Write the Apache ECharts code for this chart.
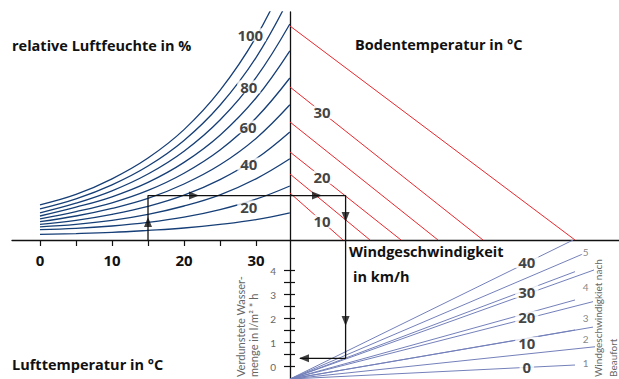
<!DOCTYPE html>
<html><head><meta charset="utf-8">
<script src="https://cdn.jsdelivr.net/npm/echarts@6/dist/echarts.min.js"></script>
<style>html,body{margin:0;padding:0;background:#fff}#c{width:619px;height:379px}</style>
</head><body><div id="c"></div>
<script>
// ---------------- data ----------------
// upper-left quadrant: air temperature (°C) vs. vapour pressure (arbitrary units)
const airTemp = [0, 5, 10, 15, 20, 25, 30, 34.7];
const rh10  = [1.4, 1.6, 1.9, 2.4, 3.0, 3.9, 5.1, 6.8];
const rh20  = [2.6, 2.9, 3.5, 4.4, 5.7, 7.6, 10.2, 13.5];
const rh30  = [3.3, 3.9, 4.9, 6.4, 8.5, 11.3, 15.3, 20.3];
const rh40  = [3.9, 4.9, 6.4, 8.4, 11.2, 15.1, 20.3, 27.0];
const rh50  = [4.6, 6.0, 7.9, 10.4, 14.0, 18.8, 25.4, 33.8];
const rh60  = [5.3, 7.1, 9.3, 12.4, 16.7, 22.5, 30.5, 40.5];
const rh70  = [6.0, 8.2, 10.8, 14.4, 19.4, 26.2, 35.5, 47.3];
const rh80  = [6.8, 9.2, 12.3, 16.5, 22.2, 30.0, 40.6, 54.0];
const rh90  = [7.8, 10.3, 13.8, 18.5, 24.9, 33.7, 45.6, 60.8];
const rh100 = [8.8, 11.4, 15.3, 20.5, 27.6, 37.4, 50.7, 67.5];
const airTempTicks = [0, 10, 20, 30];
const rhLabels = [20, 40, 60, 80, 100];
const rhLabelT = [29.0, 29.0, 28.9, 29.0, 29.2];
const rhLabelV = [8.3, 19.0, 28.3, 38.3, 51.3];

// upper-right quadrant: soil temperature lines (start on vertical axis, end on horizontal axis)
const soilTemps     = [10, 15, 20, 25, 30, 35];
const soilLineStart = [11.75, 16.5, 22.0, 29.5, 38.25, 53.5];
const soilLineEnd   = [13.25, 20.0, 27.75, 37.0, 48.25, 71.25];
const soilLabels    = [10, 20, 30];
const soilLabelAtX  = 8;

// lower-right quadrant: wind speed rays
const windKmh      = [0, 10, 20, 30, 40];
const windRayEndX  = [71.25, 71.25, 71.25, 71.25, 70.8];
const windRayEndY  = [0.07, 1.53, 2.78, 3.96, 5.28];
const windLabelX   = 59.2;
const windLabelY   = [0.0, 0.98, 2.06, 3.13, 4.38];
const beaufortRayEndX = [76.25, 75.75, 75.75, 76.0, 73.25];
const beaufortRayEndY = [0.83, 1.65, 2.71, 4.03, 4.70];
const beaufort      = [1, 2, 3, 4, 5];
const beaufortLabelX = 73.9;
const beaufortLabelY = [0.15, 1.15, 2.03, 3.33, 4.79];
const rayOrigin = [0, -0.5125];

// lower-left: evaporation axis (l/m² h)
const evapMin = 0, evapMax = 4, evapStep = 0.5;

// worked example (arrows)
const exAirTemp = 15, exVapour = 11.1, exWindX = 13.9, exEvap = 0.35, exEvapEndX = 2.5;

// ---------------- chart ----------------
const FONT = 'Lato', TFONT = 'Open Sans';
const BLUE = '#173f77', RED = '#e8282d', RAY = '#7480ba', INK = '#111111', GREY = '#666666';
const chart = echarts.init(document.getElementById('c'), null, {renderer: 'svg'});

function hid(gi, min, max) { return {type: 'value', gridIndex: gi, min: min, max: max, show: false}; }
const G = (l, t, w, h) => ({left: l, top: t, width: w, height: h, outerBoundsMode: 'none', containLabel: false});

const series = [];
const curves = [rh10, rh20, rh30, rh40, rh50, rh60, rh70, rh80, rh90, rh100];
curves.forEach(vals => series.push({
  type: 'line', xAxisIndex: 0, yAxisIndex: 0, symbol: 'none', smooth: 0.4,
  data: airTemp.map((t, i) => [t, vals[i]]), lineStyle: {color: BLUE, width: 1.3}, silent: true, z: 2
}));
soilTemps.forEach((s, i) => series.push({
  type: 'line', xAxisIndex: 1, yAxisIndex: 1, symbol: 'none',
  data: [[0, soilLineStart[i]], [soilLineEnd[i], 0]], lineStyle: {color: RED, width: 1}, silent: true, z: 2
}));
windKmh.forEach((w, i) => series.push({
  type: 'line', xAxisIndex: 2, yAxisIndex: 2, symbol: 'none',
  data: [rayOrigin, [windRayEndX[i], windRayEndY[i]]], lineStyle: {color: RAY, width: 1}, silent: true, z: 2
}));
beaufortRayEndX.forEach((x, i) => series.push({
  type: 'line', xAxisIndex: 2, yAxisIndex: 2, symbol: 'none',
  data: [rayOrigin, [x, beaufortRayEndY[i]]], lineStyle: {color: RAY, width: 1}, silent: true, z: 2
}));

// example path
const pathStyle = {color: INK, width: 1.3};
series.push({type: 'line', xAxisIndex: 0, yAxisIndex: 0, symbol: 'none', silent: true, z: 3, lineStyle: pathStyle,
  data: [[exAirTemp, 0], [exAirTemp, exVapour], [34.72, exVapour]]});
series.push({type: 'line', xAxisIndex: 1, yAxisIndex: 1, symbol: 'none', silent: true, z: 3, lineStyle: pathStyle,
  data: [[0, exVapour], [exWindX, exVapour], [exWindX, 0]]});
series.push({type: 'line', xAxisIndex: 2, yAxisIndex: 2, symbol: 'none', silent: true, z: 3, lineStyle: pathStyle,
  data: [[exWindX, 5.279], [exWindX, exEvap], [exEvapEndX, exEvap]]});

function arrows(xi, yi, pts) {
  return {type: 'scatter', xAxisIndex: xi, yAxisIndex: yi, symbol: 'triangle', symbolSize: [8, 10], silent: true, z: 6,
    itemStyle: {color: INK}, data: pts.map(p => ({value: [p[0], p[1]], symbolRotate: p[2]}))};
}
series.push(arrows(0, 0, [[exAirTemp, 4.5, 0], [21.4, exVapour, -90]]));
series.push(arrows(1, 1, [[6.75, exVapour, -90], [exWindX, 5.75, 180]]));
series.push(arrows(2, 2, [[exWindX, 1.9, 180], [3.5, exEvap, 90]]));

function labels(xi, yi, pts, texts, style) {
  return {type: 'scatter', xAxisIndex: xi, yAxisIndex: yi, symbolSize: 1, silent: true, z: 5,
    itemStyle: {color: 'rgba(0,0,0,0)'},
    label: Object.assign({show: true, position: 'inside'}, style),
    data: pts.map((p, i) => ({value: p, label: {formatter: String(texts[i])}}))};
}
const bigLbl = {color: INK, fontFamily: TFONT, fontWeight: 'bold', fontSize: 15, backgroundColor: '#fff', padding: [0, 3], lineHeight: 13};
series.push(labels(0, 0, rhLabels.map((r, i) => [rhLabelT[i], rhLabelV[i]]), rhLabels, bigLbl));
series.push(labels(1, 1, soilLabels.map(s => {
  const i = soilTemps.indexOf(s);
  return [soilLabelAtX, soilLineStart[i] * (1 - soilLabelAtX / soilLineEnd[i])];
}), soilLabels, bigLbl));
series.push(labels(2, 2, windKmh.map((w, i) => [windLabelX, windLabelY[i]]), windKmh, bigLbl));
series.push(labels(2, 2, beaufort.map((b, i) => [beaufortLabelX, beaufortLabelY[i]]), beaufort,
  {color: GREY, fontFamily: FONT, fontSize: 10, backgroundColor: '#fff', padding: [0, 1]}));

function txt(x, y, text, opt) {
  opt = opt || {};
  return {type: 'text', x: x, y: y, rotation: opt.rot || 0, z: 10, silent: true,
    style: {text: text, fill: opt.fill || INK, fontFamily: opt.font || TFONT, fontWeight: opt.weight || 'bold', fontSize: opt.size || 14.5,
      textAlign: 'left', textVerticalAlign: 'middle', align: 'left', verticalAlign: 'middle'}};
}
const small = {rot: Math.PI / 2, weight: 'normal', size: 10, fill: GREY, font: FONT};
const smallBig = {rot: Math.PI / 2, weight: 'normal', size: 11, fill: GREY, font: FONT};

chart.setOption({
  animation: false,
  backgroundColor: '#fff',
  grid: [G(40, 12, 250, 228), G(290, 12, 329, 228), G(290, 240, 329, 139), G(284, 270.7, 11, 96), G(12, 12, 607, 228), G(290, 12, 329, 367)],
  xAxis: [
    {type: 'value', gridIndex: 0, min: 0, max: 34.72, interval: 5,
      axisLine: {show: false}, splitLine: {show: false},
      axisTick: {show: true, length: 6, lineStyle: {color: INK, width: 1.2}},
      axisLabel: {margin: 12, color: INK, fontFamily: TFONT, fontWeight: 'bold', fontSize: 15, showMaxLabel: false,
        formatter: v => airTempTicks.indexOf(v) >= 0 ? String(v) : ''}},
    hid(1, 0, 82.25), hid(2, 0, 82.25), hid(3, 0, 1),
    {type: 'value', gridIndex: 4, min: 0, max: 1, position: 'bottom',
      axisLine: {show: true, onZero: false, lineStyle: {color: INK, width: 1.3}},
      axisTick: {show: false}, axisLabel: {show: false}, splitLine: {show: false}},
    hid(5, 0, 1)
  ],
  yAxis: [
    hid(0, 0, 57), hid(1, 0, 57), hid(2, -0.5125, 5.279),
    {type: 'value', gridIndex: 3, min: evapMin, max: evapMax, interval: evapStep,
      axisLine: {show: false}, axisTick: {show: false},
      splitLine: {show: true, lineStyle: {color: INK, width: 1.2}},
      axisLabel: {margin: 8, color: GREY, fontFamily: FONT, fontSize: 10,
        formatter: v => Number.isInteger(v) ? String(v) : ''}},
    hid(4, 0, 1),
    {type: 'value', gridIndex: 5, min: 0, max: 1, position: 'left',
      axisLine: {show: true, onZero: false, lineStyle: {color: INK, width: 1.3}},
      axisTick: {show: false}, axisLabel: {show: false}, splitLine: {show: false}}
  ],
  series: series,
  graphic: [
    txt(12, 45, 'relative Luftfeuchte in %'),
    txt(355, 44, 'Bodentemperatur in °C'),
    txt(12, 364, 'Lufttemperatur in °C'),
    txt(349, 251, 'Windgeschwindigkeit'),
    txt(353, 276, 'in km/h'),
    txt(240, 377, 'Verdunstete Wasser-', smallBig),
    txt(253, 377, 'menge in l/m² * h', smallBig),
    txt(598, 377, 'Windgeschwindigkiet nach', small),
    txt(613, 377, 'Beaufort', small)
  ]
});
</script></body></html>
